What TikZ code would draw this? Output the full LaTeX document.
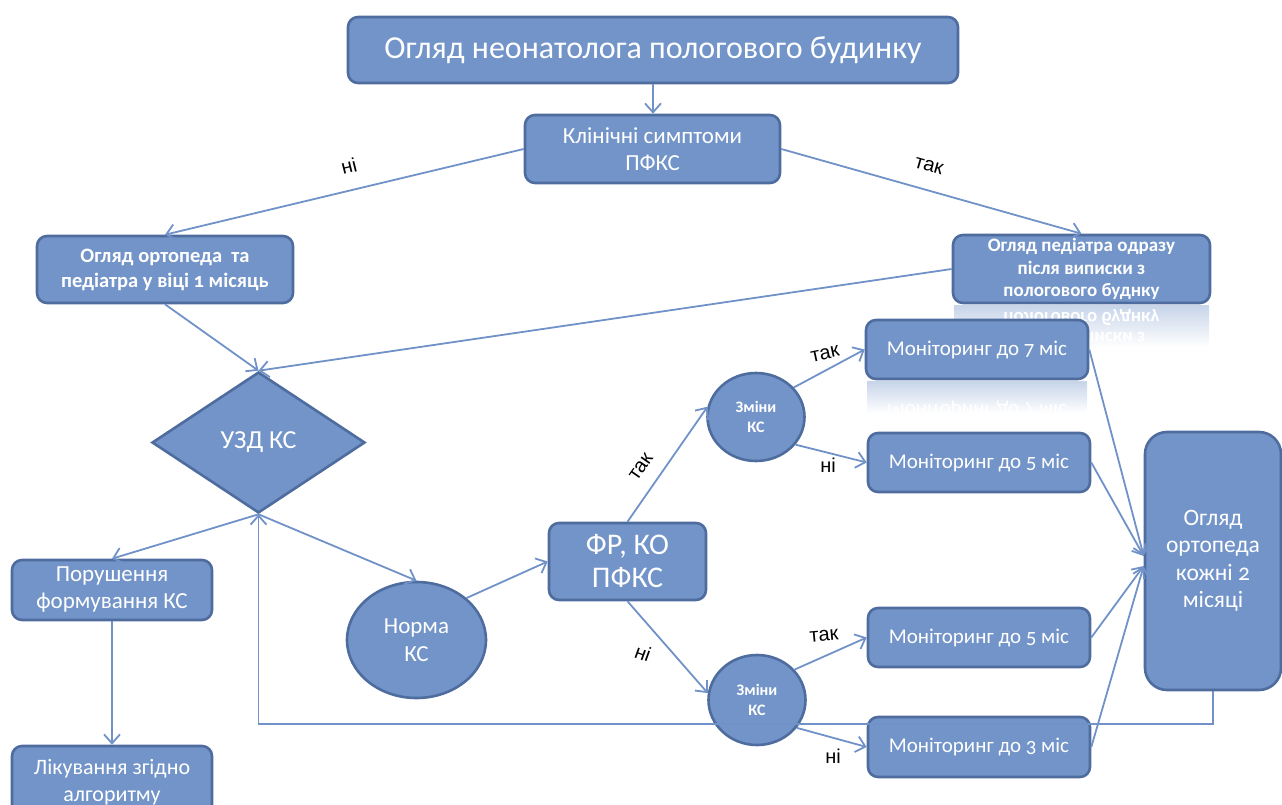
\documentclass[tikz,border=0pt]{standalone}
\usepackage{fontspec}
\setmainfont{Carlito}[Numbers=OldStyle]
\newfontfamily\labelfont{Liberation Sans}
\usetikzlibrary{shapes.geometric,arrows.meta,calc}

\definecolor{boxfill}{RGB}{114,148,200}
\definecolor{boxedge}{RGB}{78,108,158}
\definecolor{wirecol}{RGB}{112,146,200}

\newcommand\fsz[2]{\fontsize{#1}{#2}\selectfont}

\tikzset{
  base/.style={fill=boxfill, draw=boxedge, line width=2.6pt, text=white,
    align=center, inner sep=0pt},
  rbox/.style={base, rectangle, rounded corners=10pt},
  oval/.style={base, ellipse},
  wire/.style={draw=wirecol, line width=1.8pt},
  arr/.style={wire, -{Straight Barb[length=9pt,width=16pt,line width=1.8pt]}},
  lbl/.style={font=\labelfont\fsz{20}{22}, text=black, inner sep=0pt},
  mirror/.style={text=white, inner sep=0pt, align=center},
  monbox/.style={rbox, minimum width=222pt, font=\fsz{21}{26}},
}

\begin{document}
\begin{tikzpicture}[x=1pt, y=-1pt]
\useasboundingbox (0,0) rectangle (1282,805);

% soft reflections below two boxes
\begin{scope}
  \clip (954,305) rectangle (1209,347);
  \shade[top color=boxfill!40!white, bottom color=white] (954,305) rectangle (1209,347);
  \node[mirror, font=\bfseries\fsz{19}{22.5}] (pedmirror) at (1081.5,327)
    {\scalebox{1}[-1]{\begin{tabular}{@{}c@{}}після виписки з\\[-2pt]пологового буднку\end{tabular}}};
\end{scope}
\begin{scope}
  \clip (867,381) rectangle (1087,413);
  \shade[top color=boxfill!40!white, bottom color=white] (867,381) rectangle (1087,413);
  \node[mirror, font=\fsz{21}{26}] (m7mirror) at (977,410)
    {\scalebox{1}[-1]{Моніторинг до 7 міс}};
\end{scope}

% boxes
\node[rbox, minimum width=610pt, minimum height=66pt, font=\fsz{32}{38}] (title) at (653,50)
  {Огляд неонатолога пологового будинку};
\node[rbox, minimum width=255pt, minimum height=68pt, font=\fsz{23}{27}] (clin) at (652.5,149)
  {Клінічні симптоми\\ПФКС};
\node[rbox, minimum width=256pt, minimum height=67pt, font=\bfseries\fsz{20.5}{25}] (ortho) at (165,269.5)
  {Огляд ортопеда\ \ та\\педіатра у віці 1 місяць};
\node[rbox, minimum width=257pt, minimum height=68pt, font=\bfseries\fsz{19}{22.5}] (ped) at (1081.5,269)
  {Огляд педіатра одразу\\після виписки з\\пологового буднку};
\node[base, diamond, minimum width=213pt, minimum height=141pt, font=\fsz{26}{30}] (diam) at (258.5,442.5)
  {УЗД КС};
\node[rbox, minimum width=200pt, minimum height=60pt, font=\fsz{23}{27}] (poru) at (112,590)
  {Порушення\\формування КС};
\node[rbox, minimum width=200pt, minimum height=72pt, font=\fsz{22}{27}] (lik) at (112,782)
  {Лікування згідно\\алгоритму};
\node[oval, minimum width=139pt, minimum height=116pt, font=\fsz{23}{28}] (norma) at (416.5,640)
  {Норма\\КС};
\node[rbox, minimum width=157pt, minimum height=77pt, font=\fsz{30}{33}] (fr) at (627.5,561.5)
  {ФР, КО\\ПФКС};
\node[oval, minimum width=97pt, minimum height=88pt, font=\bfseries\fsz{16}{20}] (z1) at (756,417)
  {Зміни\\КС};
\node[oval, minimum width=97pt, minimum height=90pt, font=\bfseries\fsz{16}{20}] (z2) at (757,700)
  {Зміни\\КС};
\node[monbox, minimum height=59pt] (m7) at (977,349.5) {Моніторинг до 7 міс};
\node[monbox, minimum height=59pt] (m5a) at (979,462.5) {Моніторинг до 5 міс};
\node[monbox, minimum height=59pt] (m5b) at (979,637.5) {Моніторинг до 5 міс};
\node[monbox, minimum height=60pt] (m3) at (979,747) {Моніторинг до 3 міс};
\node[rbox, rounded corners=22pt, minimum width=136pt, minimum height=258pt, font=\fsz{23.5}{27.5}] (o2) at (1213,561)
  {Огляд\\ортопеда\\кожні 2\\місяці};

% connectors
\draw[arr] (title.south) -- (title.south |- clin.north);
\draw[arr] (clin.west) -- (ortho.north);
\draw[arr] (clin.east) -- (ped.north);
\draw[arr] (ortho.south) -- (diam.north);
\draw[arr] (ped.west) -- (diam.north);
\draw[arr] (diam.south) -- (poru.north);
\draw[arr] (diam.south) -- (norma.north);
\draw[arr] (poru.south) -- (lik.north);
\draw[arr] (norma.40) -- (fr.west);
\draw[arr] (fr.north) -- (z1.168);
\draw[arr] (fr.south) -- (z2.172);
\draw[arr] (z1.38) -- (m7.west);
\draw[arr] (z1.-35) -- (m5a.west);
\draw[arr] (z2.39) -- (m5b.west);
\draw[arr] (z2.-35) -- (m3.west);

\coordinate (o2up) at ($(o2.west)+(0,-5)$);
\coordinate (o2dn) at ($(o2.west)+(0,5)$);
\draw[arr] (m7.east) -- (o2up);
\draw[arr] (m5a.east) -- (o2up);
\draw[arr] (m5b.east) -- (o2dn);
\draw[arr] (m3.east) -- (o2dn);

\coordinate (back) at (258.5,724);
\draw[arr] (o2.south) |- (back) -- (diam.south);

% branch labels
\node[lbl, rotate=14] (lno1) at (349,166) {ні};
\node[lbl, rotate=-16] (lyes1) at (929,166) {так};
\node[lbl, rotate=55] (lyes2) at (641,467) {так};
\node[lbl, rotate=-20] (lno2) at (643,653) {ні};
\node[lbl, rotate=12] (lyes3) at (825,354) {так};
\node[lbl] (lno3) at (828,465) {ні};
\node[lbl, rotate=5] (lyes4) at (824,636) {так};
\node[lbl] (lno4) at (833,756) {ні};
\end{tikzpicture}
\end{document}
